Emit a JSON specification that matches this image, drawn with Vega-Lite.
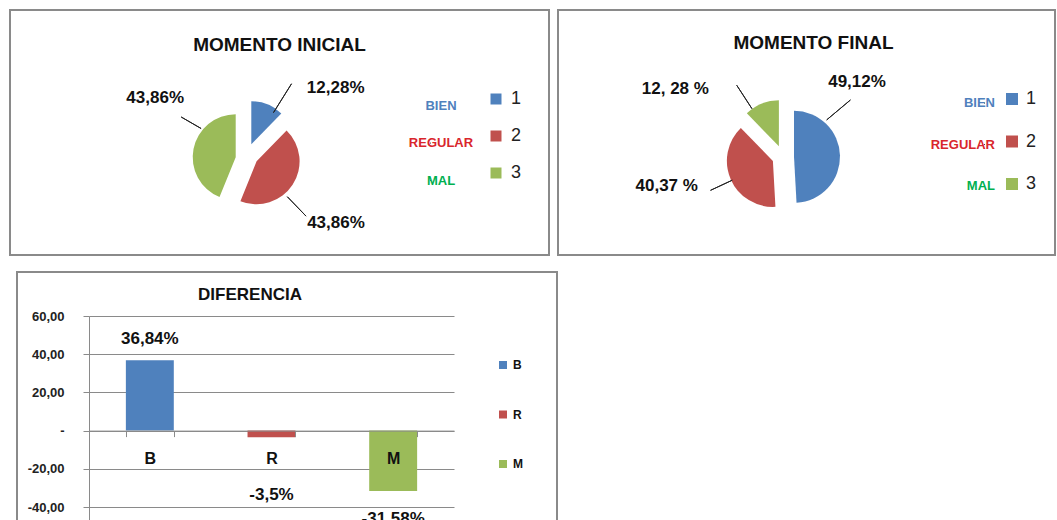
{
  "$schema": "https://vega.github.io/schema/vega-lite/v6.json",
  "padding": {"left": 9, "top": 9, "right": 0, "bottom": 0},
  "background": "white",
  "config": {
    "font": "Liberation Sans",
    "view": {"stroke": "#8a8a8a", "strokeWidth": 2},
    "title": {"font": "Liberation Sans", "fontWeight": "bold", "color": "#111"},
    "legend": {"labelFont": "Liberation Sans"}
  },
  "resolve": {
    "scale": {"color": "independent", "opacity": "independent", "theta": "independent"},
    "legend": {"color": "independent", "opacity": "independent"}
  },
  "vconcat": [
    {
      "resolve": {
        "scale": {"color": "independent", "opacity": "independent", "theta": "independent"},
        "legend": {"color": "independent", "opacity": "independent"}
      },
      "hconcat": [
        {
          "width": 539,
          "height": 245,
          "view": {"stroke": "#8a8a8a", "strokeWidth": 2},
          "title": {"text": "MOMENTO INICIAL", "offset": -45, "fontSize": 19, "anchor": "middle"},
          "data": {"values": [
            {"n": "1", "nombre": "BIEN", "valor": 12.28, "etiqueta": "12,28%"},
            {"n": "2", "nombre": "REGULAR", "valor": 43.86, "etiqueta": "43,86%"},
            {"n": "3", "nombre": "MAL", "valor": 43.86, "etiqueta": "43,86%"}
          ]},
          "transform": [{"stack": "valor", "groupby": [], "sort": [{"field": "n", "order": "ascending"}], "as": ["v0", "v1"]}],
          "encoding": {
            "theta": {"field": "v0", "type": "quantitative", "stack": null, "scale": {"domain": [0, 100]}}
          },
          "layer": [
            {
              "transform": [{"filter": "datum.n === '1'"}],
              "mark": {"type": "arc", "outerRadius": 43, "x": 241.3, "y": 134.3},
              "encoding": {
                "theta2": {"field": "v1"},
                "color": {"field": "n", "type": "nominal", "scale": {"domain": ["1", "2", "3"], "range": ["#4F81BD", "#C0504D", "#9BBB59"]},
                  "legend": {"orient": "none", "legendX": 477, "legendY": 80, "title": null, "symbolType": "square", "symbolSize": 121, "symbolStrokeWidth": 0, "labelFontSize": 18, "labelColor": "#222", "labelOffset": 6, "rowPadding": 19, "padding": 0}},
                "opacity": {"field": "nombre", "type": "ordinal", "sort": ["BIEN", "REGULAR", "MAL"], "scale": {"domain": ["BIEN", "REGULAR", "MAL"], "range": [1, 1]},
                  "legend": {"orient": "none", "legendX": 414, "legendY": 89, "title": null, "symbolOpacity": 0, "symbolSize": 1, "labelFontSize": 13, "labelFontWeight": "bold", "labelAlign": "center", "rowPadding": 23.5, "padding": 0, "labelOffset": 4,
                    "labelColor": {"expr": "datum.value === 'BIEN' ? '#4F81BD' : datum.value === 'REGULAR' ? '#D9262C' : '#00B050'"}}}
              }
            },
            {
              "transform": [{"filter": "datum.n === '2'"}],
              "mark": {"type": "arc", "outerRadius": 43, "x": 246.6, "y": 151.3},
              "encoding": {
                "theta2": {"field": "v1"},
                "color": {"field": "n", "type": "nominal"},
                "opacity": {"field": "nombre", "type": "ordinal", "sort": ["BIEN", "REGULAR", "MAL"]}
              }
            },
            {
              "transform": [{"filter": "datum.n === '3'"}],
              "mark": {"type": "arc", "outerRadius": 43, "x": 225.7, "y": 147.2},
              "encoding": {
                "theta2": {"field": "v1"},
                "color": {"field": "n", "type": "nominal"},
                "opacity": {"field": "nombre", "type": "ordinal", "sort": ["BIEN", "REGULAR", "MAL"]}
              }
            },
            {
              "transform": [{"filter": "datum.n === '1'"}],
              "encoding": {"theta": {"field": "v1", "type": "quantitative", "scale": {"domain": [0, 100]}}},
              "layer": [
                {"mark": {"type": "text", "radius": 111, "thetaOffset": 0.154, "fontSize": 17, "fontWeight": "bold", "color": "#111", "x": 237, "y": 145}, "encoding": {"text": {"field": "etiqueta"}}},
                {"mark": {"type": "arc", "innerRadius": 50, "outerRadius": 84, "thetaOffset": -0.213, "theta2Offset": -0.213, "stroke": "#222", "strokeWidth": 1, "fill": "transparent", "x": 237, "y": 145}, "encoding": {"theta2": {"field": "v1"}}}
              ]
            },
            {
              "transform": [{"filter": "datum.n === '2'"}],
              "encoding": {"theta": {"field": "v1", "type": "quantitative", "scale": {"domain": [0, 100]}}},
              "layer": [
                {"mark": {"type": "text", "radius": 112, "thetaOffset": -1.304, "fontSize": 17, "fontWeight": "bold", "color": "#111", "x": 237, "y": 145}, "encoding": {"text": {"field": "etiqueta"}}},
                {"mark": {"type": "arc", "innerRadius": 58, "outerRadius": 85, "thetaOffset": -1.154, "theta2Offset": -1.154, "stroke": "#222", "strokeWidth": 1, "fill": "transparent", "x": 237, "y": 145}, "encoding": {"theta2": {"field": "v1"}}}
              ]
            },
            {
              "transform": [{"filter": "datum.n === '3'"}],
              "encoding": {"theta": {"field": "v1", "type": "quantitative", "scale": {"domain": [0, 100]}}},
              "layer": [
                {"mark": {"type": "text", "radius": 108, "thetaOffset": -1.016, "fontSize": 17, "fontWeight": "bold", "color": "#111", "x": 237, "y": 145}, "encoding": {"text": {"field": "etiqueta"}}},
                {"mark": {"type": "arc", "innerRadius": 53, "outerRadius": 76, "thetaOffset": -1.047, "theta2Offset": -1.047, "stroke": "#222", "strokeWidth": 1, "fill": "transparent", "x": 237, "y": 145}, "encoding": {"theta2": {"field": "v1"}}}
              ]
            }
          ]
        },
        {
          "width": 497,
          "height": 245,
          "view": {"stroke": "#8a8a8a", "strokeWidth": 2},
          "title": {"text": "MOMENTO FINAL", "offset": -43, "fontSize": 19, "anchor": "middle", "dx": 7},
          "data": {"values": [
            {"n": "1", "nombre": "BIEN", "valor": 49.12, "etiqueta": "49,12%"},
            {"n": "2", "nombre": "REGULAR", "valor": 38.6, "etiqueta": "40,37 %"},
            {"n": "3", "nombre": "MAL", "valor": 12.28, "etiqueta": "12, 28 %"}
          ]},
          "transform": [{"stack": "valor", "groupby": [], "sort": [{"field": "n", "order": "ascending"}], "as": ["v0", "v1"]}],
          "encoding": {
            "theta": {"field": "v0", "type": "quantitative", "stack": null, "scale": {"domain": [0, 100]}}
          },
          "layer": [
            {
              "transform": [{"filter": "datum.n === '1'"}],
              "mark": {"type": "arc", "outerRadius": 46, "x": 236, "y": 146.8},
              "encoding": {
                "theta2": {"field": "v1"},
                "color": {"field": "n", "type": "nominal", "scale": {"domain": ["1", "2", "3"], "range": ["#4F81BD", "#C0504D", "#9BBB59"]},
                  "legend": {"orient": "none", "legendX": 445, "legendY": 80, "title": null, "symbolType": "square", "symbolSize": 144, "symbolStrokeWidth": 0, "labelFontSize": 18, "labelColor": "#222", "labelOffset": 5, "rowPadding": 24.5, "padding": 0}},
                "opacity": {"field": "nombre", "type": "ordinal", "sort": ["BIEN", "REGULAR", "MAL"], "scale": {"domain": ["BIEN", "REGULAR", "MAL"], "range": [1, 1]},
                  "legend": {"orient": "none", "legendX": 420, "legendY": 86.5, "title": null, "symbolOpacity": 0, "symbolSize": 1, "labelFontSize": 13, "labelFontWeight": "bold", "labelAlign": "right", "rowPadding": 27.5, "padding": 0, "labelOffset": 4,
                    "labelColor": {"expr": "datum.value === 'BIEN' ? '#4F81BD' : datum.value === 'REGULAR' ? '#D9262C' : '#00B050'"}}}
              }
            },
            {
              "transform": [{"filter": "datum.n === '2'"}],
              "mark": {"type": "arc", "outerRadius": 46, "x": 214.9, "y": 150.9},
              "encoding": {
                "theta2": {"field": "v1"},
                "color": {"field": "n", "type": "nominal"},
                "opacity": {"field": "nombre", "type": "ordinal", "sort": ["BIEN", "REGULAR", "MAL"]}
              }
            },
            {
              "transform": [{"filter": "datum.n === '3'"}],
              "mark": {"type": "arc", "outerRadius": 46, "x": 220.9, "y": 136.3},
              "encoding": {
                "theta2": {"field": "v1"},
                "color": {"field": "n", "type": "nominal"},
                "opacity": {"field": "nombre", "type": "ordinal", "sort": ["BIEN", "REGULAR", "MAL"]}
              }
            },
            {
              "transform": [{"filter": "datum.n === '1'"}],
              "encoding": {"theta": {"field": "v1", "type": "quantitative", "scale": {"domain": [0, 100]}}},
              "layer": [
                {"mark": {"type": "text", "radius": 105, "thetaOffset": -2.304, "fontSize": 17, "fontWeight": "bold", "color": "#111", "x": 225, "y": 146.5}, "encoding": {"text": {"field": "etiqueta"}}},
                {"mark": {"type": "arc", "innerRadius": 57, "outerRadius": 88, "thetaOffset": -2.213, "theta2Offset": -2.213, "stroke": "#222", "strokeWidth": 1, "fill": "transparent", "x": 225, "y": 146.5}, "encoding": {"theta2": {"field": "v1"}}}
              ]
            },
            {
              "transform": [{"filter": "datum.n === '2'"}],
              "encoding": {"theta": {"field": "v1", "type": "quantitative", "scale": {"domain": [0, 100]}}},
              "layer": [
                {"mark": {"type": "text", "radius": 120, "thetaOffset": -1.049, "fontSize": 17, "fontWeight": "bold", "color": "#111", "x": 225, "y": 146.5}, "encoding": {"text": {"field": "etiqueta"}}},
                {"mark": {"type": "arc", "innerRadius": 56, "outerRadius": 80, "thetaOffset": -1.236, "theta2Offset": -1.236, "stroke": "#222", "strokeWidth": 1, "fill": "transparent", "x": 225, "y": 146.5}, "encoding": {"theta2": {"field": "v1"}}}
              ]
            },
            {
              "transform": [{"filter": "datum.n === '3'"}],
              "encoding": {"theta": {"field": "v1", "type": "quantitative", "scale": {"domain": [0, 100]}}},
              "layer": [
                {"mark": {"type": "text", "radius": 127, "thetaOffset": -1.012, "fontSize": 17, "fontWeight": "bold", "color": "#111", "x": 225, "y": 146.5}, "encoding": {"text": {"field": "etiqueta"}}},
                {"mark": {"type": "arc", "innerRadius": 57, "outerRadius": 85, "thetaOffset": -0.576, "theta2Offset": -0.576, "stroke": "#222", "strokeWidth": 1, "fill": "transparent", "x": 225, "y": 146.5}, "encoding": {"theta2": {"field": "v1"}}}
              ]
            }
          ]
        }
      ],
      "spacing": 7
    },
    {
      "resolve": {
        "scale": {"color": "independent"},
        "legend": {"color": "independent"}
      },
      "hconcat": [
        {
          "width": 1,
          "height": 1,
          "view": {"stroke": null},
          "data": {"values": []},
          "mark": "point"
        },
        {
          "width": 540,
          "height": 258,
          "title": {"text": "DIFERENCIA", "offset": -32, "dx": -37, "fontSize": 17, "anchor": "middle"},
          "data": {"values": [
            {"cat": "B", "v": 36.84, "etiqueta": "36,84%"},
            {"cat": "R", "v": -3.5, "etiqueta": "-3,5%"},
            {"cat": "M", "v": -31.58, "etiqueta": "-31,58%"}
          ]},
          "encoding": {
            "x": {"field": "cat", "type": "nominal", "sort": ["B", "R", "M"],
              "scale": {"range": [72, 437], "paddingInner": 0.606, "paddingOuter": 0.303},
              "axis": {"title": null, "orient": "bottom", "offset": -99.4, "labelAngle": 0, "labelFontSize": 16, "labelFontWeight": "bold", "labelColor": "#111", "labelPadding": 14, "tickBand": "extent", "tickSize": 6, "tickColor": "#8a8a8a", "domainColor": "#8a8a8a", "zindex": 1}},
            "y": {"field": "v", "type": "quantitative",
              "scale": {"domain": [-48, 60], "range": [250.3, 44], "nice": false, "zero": false},
              "axis": {"title": null, "offset": -72, "values": [-40, -20, 0, 20, 40, 60], "labelExpr": "datum.value == 0 ? '-' : replace(replace(format(datum.value, '.2f'), '.', ','), '\u2212', '-')", "labelFontSize": 13, "labelFontWeight": "bold", "labelColor": "#222", "labelPadding": 19, "tickSize": 6, "tickColor": "#8a8a8a", "domainColor": "#8a8a8a", "grid": true, "gridColor": "#8a8a8a", "gridOpacity": 1}}
          },
          "layer": [
            {
              "mark": {"type": "bar"},
              "encoding": {
                "color": {"field": "cat", "type": "nominal", "sort": ["B", "R", "M"], "scale": {"domain": ["B", "R", "M"], "range": ["#4F81BD", "#C0504D", "#9BBB59"]},
                  "legend": {"orient": "none", "legendX": 480, "legendY": 87, "title": null, "symbolType": "square", "symbolSize": 64, "symbolStrokeWidth": 0, "labelFontSize": 12, "labelFontWeight": "bold", "labelColor": "#111", "labelOffset": 4, "rowPadding": 37.5, "padding": 0}}
              }
            },
            {
              "transform": [{"filter": "datum.v > 0"}],
              "mark": {"type": "text", "dy": -21, "fontSize": 17, "fontWeight": "bold", "color": "#111"},
              "encoding": {"text": {"field": "etiqueta"}}
            },
            {
              "transform": [{"filter": "datum.cat === 'R'"}],
              "mark": {"type": "text", "dy": 58, "fontSize": 17, "fontWeight": "bold", "color": "#111"},
              "encoding": {"text": {"field": "etiqueta"}}
            },
            {
              "transform": [{"filter": "datum.cat === 'M'"}],
              "mark": {"type": "text", "dy": 28, "fontSize": 17, "fontWeight": "bold", "color": "#111"},
              "encoding": {"text": {"field": "etiqueta"}}
            }
          ]
        }
      ],
      "spacing": 5
    }
  ],
  "spacing": 15
}
